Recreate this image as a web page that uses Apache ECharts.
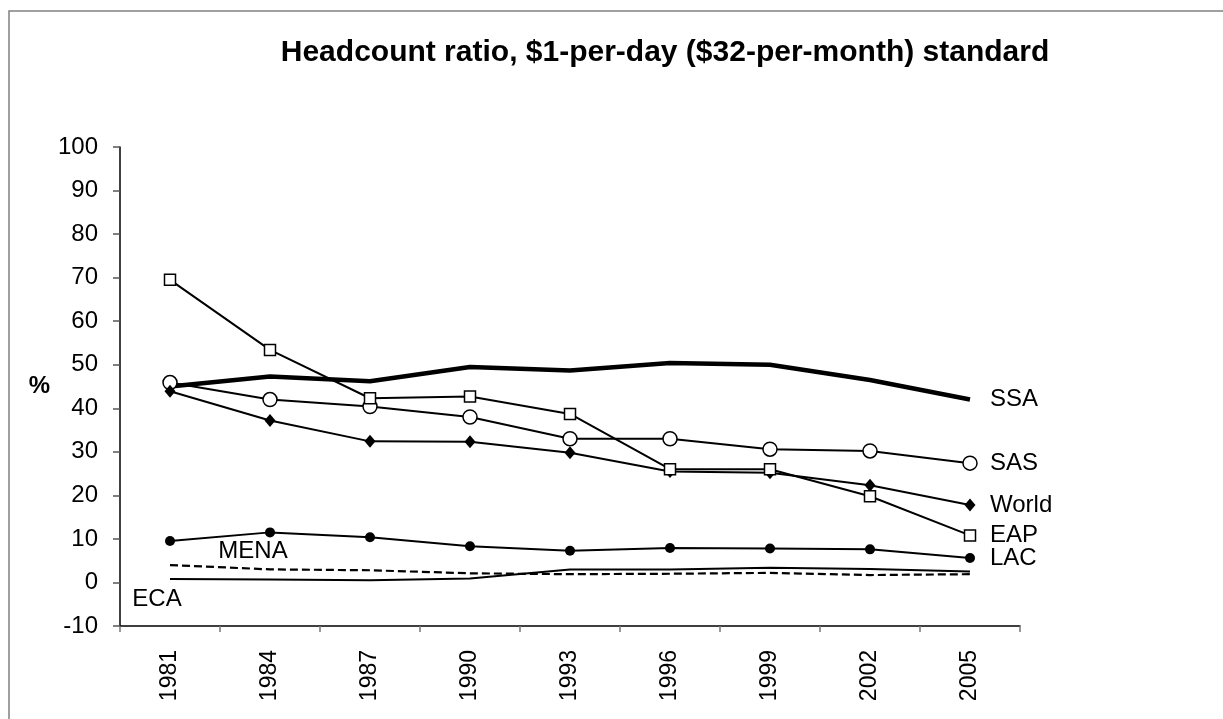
<!DOCTYPE html>
<html>
<head>
<meta charset="utf-8">
<script src="https://cdn.jsdelivr.net/npm/echarts@6/dist/echarts.min.js"></script>
<style>
html,body{margin:0;padding:0;background:#fff;}
#chart{width:1223px;height:719px;}
</style>
</head>
<body>
<div id="chart"></div>
<script>
const years = ['1981','1984','1987','1990','1993','1996','1999','2002','2005'];
const SSA   = [45.0, 47.3, 46.2, 49.5, 48.7, 50.4, 50.0, 46.5, 42.0];
const SAS   = [45.9, 42.0, 40.4, 38.0, 33.0, 33.0, 30.6, 30.2, 27.4];
const World = [43.9, 37.2, 32.4, 32.3, 29.8, 25.5, 25.2, 22.3, 17.8];
const EAP   = [69.5, 53.4, 42.3, 42.7, 38.7, 26.0, 26.0, 19.8, 10.8];
const LAC   = [9.5, 11.5, 10.4, 8.3, 7.3, 7.9, 7.8, 7.6, 5.6];
const MENA  = [4.0, 3.0, 2.8, 2.1, 1.9, 2.0, 2.2, 1.7, 1.9];
const ECA   = [0.8, 0.7, 0.5, 0.9, 3.0, 3.0, 3.4, 3.1, 2.5];
const yTicks = {min: -10, max: 100, interval: 10};

const FONT = '"Liberation Sans", Arial, sans-serif';
const chart = echarts.init(document.getElementById('chart'));

function endLbl(name){
  return {show:true, formatter:name, distance:20, fontFamily:FONT, fontSize:24, color:'#000', align:'left', verticalAlign:'middle'};
}

const option = {
  animation:false,
  backgroundColor:'#fff',
  title:{
    text:'Headcount ratio, $1-per-day ($32-per-month) standard',
    left:660, top:33, textAlign:'center',
    textStyle:{fontFamily:FONT, fontSize:30, fontWeight:'bold', color:'#000'}
  },
  graphic:[
    {type:'polyline', shape:{points:[[9,730],[9,11],[1230,11]]}, style:{stroke:'#808080', lineWidth:1.5, fill:null}}
  ],
  grid:{left:120, right:203, top:147, bottom:93},
  xAxis:{
    type:'category', data:years, boundaryGap:true,
    axisLine:{onZero:false, lineStyle:{color:'#000', width:1.5}},
    axisTick:{show:true, alignWithLabel:false, length:6, lineStyle:{color:'#777', width:1.5}},
    axisLabel:{rotate:90, margin:24, fontFamily:FONT, fontSize:23, color:'#000'},
    splitLine:{show:false}
  },
  yAxis:{
    type:'value', min:yTicks.min, max:yTicks.max, interval:yTicks.interval,
    name:'%', nameLocation:'middle', nameGap:70, nameRotate:0,
    nameTextStyle:{fontFamily:FONT, fontSize:24, fontWeight:'bold', color:'#000'},
    axisLine:{show:true, lineStyle:{color:'#000', width:1.5}},
    axisTick:{show:true, length:7, lineStyle:{color:'#555', width:1.5}},
    axisLabel:{margin:22, fontFamily:FONT, fontSize:24, color:'#000'},
    splitLine:{show:false}
  },
  series:[
    {name:'SSA', type:'line', data:SSA, symbol:'none', lineStyle:{color:'#000', width:4.5}, endLabel:endLbl('SSA'), z:3},
    {name:'SAS', type:'line', data:SAS, symbol:'circle', symbolSize:14, lineStyle:{color:'#000', width:2},
      itemStyle:{color:'#fff', borderColor:'#000', borderWidth:1.5}, endLabel:endLbl('SAS'), z:4},
    {name:'World', type:'line', data:World, symbol:'diamond', symbolSize:[11,13], lineStyle:{color:'#000', width:2},
      itemStyle:{color:'#000', borderColor:'#000', borderWidth:0}, endLabel:endLbl('World'), z:4},
    {name:'EAP', type:'line', data:EAP, symbol:'rect', symbolSize:11, lineStyle:{color:'#000', width:2},
      itemStyle:{color:'#fff', borderColor:'#000', borderWidth:1.5}, endLabel:endLbl('EAP'), z:5},
    {name:'LAC', type:'line', data:LAC, symbol:'circle', symbolSize:10, lineStyle:{color:'#000', width:2},
      itemStyle:{color:'#000', borderColor:'#000', borderWidth:0}, endLabel:endLbl('LAC'), z:4},
    {name:'MENA', type:'line', data:MENA, symbol:'none', lineStyle:{color:'#000', width:2.2, type:[8,4]}, z:3,
      markPoint:{symbol:'circle', symbolSize:0, silent:true,
        data:[{coord:[1, MENA[1]], label:{show:true, formatter:'MENA', position:'inside', offset:[-17,-18], fontFamily:FONT, fontSize:24, color:'#000'}}]}},
    {name:'ECA', type:'line', data:ECA, symbol:'none', lineStyle:{color:'#000', width:2}, z:3,
      markPoint:{symbol:'circle', symbolSize:0, silent:true,
        data:[{coord:[0, ECA[0]], label:{show:true, formatter:'ECA', position:'inside', offset:[-13,20], fontFamily:FONT, fontSize:24, color:'#000'}}]}}
  ]
};
chart.setOption(option);
</script>
</body>
</html>
